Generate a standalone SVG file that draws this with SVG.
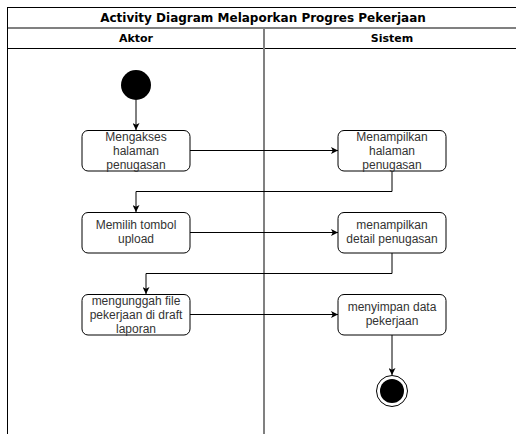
<svg xmlns="http://www.w3.org/2000/svg" width="516" height="434" viewBox="0 0 516 434">
<defs>
<marker id="arr" viewBox="0 0 10 10" refX="10" refY="5" markerWidth="7" markerHeight="7" markerUnits="userSpaceOnUse" orient="auto">
<path d="M0,0 L10,5 L0,10 L2.5,5 Z" fill="#000"/>
</marker>
</defs>
<style>
.box{fill:#fff;stroke:#000;stroke-width:1}
.t{font-family:"Liberation Sans",Arial,sans-serif;font-size:12px;fill:#333;text-anchor:middle}
.h{font-family:"DejaVu Sans",Verdana,sans-serif;font-weight:bold;fill:#000;text-anchor:middle}
.c{fill:none;stroke:#000;stroke-width:1;marker-end:url(#arr)}
</style>
<rect width="516" height="434" fill="#fff"/>
<g id="pool">
<line x1="7.5" y1="7" x2="7.5" y2="434" stroke="#000"/>
<line x1="7" y1="7.5" x2="516" y2="7.5" stroke="#000"/>
<line x1="8" y1="28" x2="516" y2="28" stroke="#808080" stroke-width="2"/>
<line x1="8" y1="48.5" x2="516" y2="48.5" stroke="#000"/>
<line x1="264" y1="29" x2="264" y2="434" stroke="#808080" stroke-width="2"/>
<text class="h" x="263" y="22" font-size="12">Activity Diagram Melaporkan Progres Pekerjaan</text>
<text class="h" x="136" y="42" font-size="11">Aktor</text>
<text class="h" x="392" y="42" font-size="11">Sistem</text>
</g>
<g id="connectors">
<path class="c" d="M136,100 V130"/>
<path class="c" d="M190,150.5 H338"/>
<path class="c" d="M392,171 V191.5 H136 V212"/>
<path class="c" d="M190,232.5 H338"/>
<path class="c" d="M392,253 V273.5 H146 V294"/>
<path class="c" d="M190,314.5 H338"/>
<path class="c" d="M392,335 V375"/>
</g>
<g id="start">
<circle cx="136" cy="85" r="15" fill="#000"/>
</g>
<g id="n1">
<rect class="box" x="82" y="130.5" width="108" height="40.5" rx="6"/>
<text class="t" x="136" y="141">Mengakses</text>
<text class="t" x="136" y="155">halaman</text>
<text class="t" x="136" y="169">penugasan</text>
</g>
<g id="n2">
<rect class="box" x="338" y="130.5" width="108" height="40.5" rx="6"/>
<text class="t" x="392" y="141">Menampilkan</text>
<text class="t" x="392" y="155">halaman</text>
<text class="t" x="392" y="169">penugasan</text>
</g>
<g id="n3">
<rect class="box" x="82" y="212.5" width="108" height="40.5" rx="6"/>
<text class="t" x="136" y="229">Memilih tombol</text>
<text class="t" x="136" y="243">upload</text>
</g>
<g id="n4">
<rect class="box" x="82" y="294.5" width="108" height="40.5" rx="6"/>
<text class="t" x="136" y="305">mengunggah file</text>
<text class="t" x="136" y="319">pekerjaan di draft</text>
<text class="t" x="136" y="333">laporan</text>
</g>
<g id="n5">
<rect class="box" x="338" y="212.5" width="108" height="40.5" rx="6"/>
<text class="t" x="392" y="229">menampilkan</text>
<text class="t" x="392" y="243">detail penugasan</text>
</g>
<g id="n6">
<rect class="box" x="338" y="294.5" width="108" height="40.5" rx="6"/>
<text class="t" x="392" y="311">menyimpan data</text>
<text class="t" x="392" y="325">pekerjaan</text>
</g>
<g id="end">
<circle cx="392" cy="391" r="15.5" fill="#fff" stroke="#000" stroke-width="1"/>
<circle cx="392" cy="391" r="12" fill="#000"/>
</g>
</svg>
